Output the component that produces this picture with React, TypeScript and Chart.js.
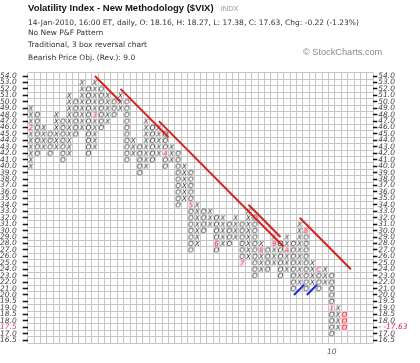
import React, { useEffect, useRef } from 'react';
import { Chart, registerables } from 'chart.js';

Chart.register(...registerables);

// ---- data ----
const boxLevels = [54, 53, 52, 51, 50, 49, 48, 47, 46, 45, 44, 43, 42, 41, 40, 39, 38, 37, 36, 35, 34, 33, 32, 31, 30, 29, 28, 27, 26, 25, 24, 23, 22, 21, 20, 19.5, 19, 18.5, 18, 17.5, 17, 16.5];

const columnTypes = ['X', 'O', 'X', 'O', 'X', 'O', 'X', 'O', 'X', 'O', 'X', 'O', 'X', 'O', 'X', 'O', 'X', 'O', 'X', 'O', 'X', 'O', 'X', 'O', 'X', 'O', 'X', 'O', 'X', 'O', 'X', 'O', 'X', 'O', 'X', 'O', 'X', 'O', 'X', 'O', 'X', 'O', 'X', 'O', 'X', 'O', 'X', 'O', 'X', 'O'];
const columnLows = [40, 42, 43, 42, 43, 41, 42, 45, 46, 42, 43, 46, 47, 48, 49, 41, 42, 39, 40, 41, 42, 40, 41, 34, 35, 27, 28, 30, 31, 27, 28, 28, 29, 25, 26, 23, 24, 24, 25, 23, 24, 21, 22, 21, 22, 21, 22, 17, 17.5, 17.5];
const columnHighs = [49, 48, 46, 45, 48, 47, 51, 50, 53, 52, 53, 52, 51, 50, 51, 50, 44, 43, 47, 46, 46, 45, 43, 42, 40, 39, 34, 33, 33, 32, 32, 31, 32, 31, 33, 32, 28, 27, 29, 28, 29, 28, 31, 30, 25, 24, 24, 23, 19, 18.5];

const monthColumns = [0, 10, 21, 25, 29, 33, 36, 38, 40, 43, 45, 47];
const monthLevels = [46, 48, 42, 34, 28, 25, 27, 28, 27, 30, 24, 19];
const monthLabels = ['2', '3', '4', '5', '6', '7', '8', '9', 'A', 'B', 'C', '1'];

const currentColumn = 49;
const lastPriceLevel = 17.5;
const lastPriceLabel = '- -17.63';
const yearColumn = 47;
const yearLabel = '10';

const bearStartCols = [10, 14, 20, 34, 42];
const bearStartLevels = [54, 52, 47, 34, 32];
const bearEndCols = [14, 21.5, 39.5, 39, 50];
const bearEndLevels = [50, 44.5, 27.5, 29, 24];

const bullStartCols = [41.1, 43.1];
const bullStartLevels = [20, 20];
const bullEndCols = [42.7, 44.7];
const bullEndLevels = [21.6, 21.6];

const totalColumns = 54;

// ---- helpers ----
const FONT = '"DejaVu Sans", Verdana, sans-serif';

function levelToRow(level: number): number {
  if (level >= 20) return 54 - level;
  return 34 + (20 - level) / 0.5;
}

function makeGlyph(text: string, color: string, bg?: string): HTMLCanvasElement {
  const c = document.createElement('canvas');
  c.width = 7;
  c.height = 7;
  const g = c.getContext('2d') as CanvasRenderingContext2D;
  if (bg) {
    g.fillStyle = bg;
    g.fillRect(0, 0, 7, 7);
  }
  g.fillStyle = color;
  g.font = `italic 7px ${FONT}`;
  g.textAlign = 'center';
  g.textBaseline = 'middle';
  g.fillText(text, 3.5, 4);
  return c;
}

const isHalf = (v: number) => Math.abs(v - Math.round(v)) > 0.25;

export default function App() {
  const ref = useRef<HTMLCanvasElement | null>(null);

  useEffect(() => {
    document.body.style.margin = '0';
    const canvas = ref.current;
    if (!canvas) return;

    const markerKey = new Set(monthColumns.map((c, i) => `${c}|${monthLevels[i]}`));
    const xPts: { x: number; y: number }[] = [];
    const oPts: { x: number; y: number }[] = [];
    const curPts: { x: number; y: number }[] = [];
    columnTypes.forEach((t, col) => {
      boxLevels.forEach((lv) => {
        if (lv < columnLows[col] || lv > columnHighs[col]) return;
        if (markerKey.has(`${col}|${lv}`)) return;
        const p = { x: col, y: levelToRow(lv) };
        if (col === currentColumn) curPts.push(p);
        else if (t === 'X') xPts.push(p);
        else oPts.push(p);
      });
    });

    const xGlyph = makeGlyph('X', '#1c1c1c');
    const oGlyph = makeGlyph('O', '#1c1c1c');
    const curGlyph = makeGlyph('O', '#e0202a', '#f9cdd5');
    const markerGlyphs = monthLabels.map((l) => makeGlyph(l, '#c8364f', 'rgba(240,170,185,0.28)'));

    const bearSets = bearStartCols.map((c, i) => ({
      data: [
        { x: c, y: levelToRow(bearStartLevels[i]) },
        { x: bearEndCols[i], y: levelToRow(bearEndLevels[i]) },
      ],
      showLine: true,
      borderColor: '#d8201c',
      borderWidth: 2,
      pointRadius: 0,
    }));
    const bullSets = bullStartCols.map((c, i) => ({
      data: [
        { x: c, y: levelToRow(bullStartLevels[i]) },
        { x: bullEndCols[i], y: levelToRow(bullEndLevels[i]) },
      ],
      showLine: true,
      borderColor: '#1a2ad8',
      borderWidth: 2,
      pointRadius: 0,
    }));

    const gridColor = '#c6c6c6';
    const tickFont = { family: FONT, size: 7.5, style: 'italic' as const };

    const chart = new Chart(canvas, {
      type: 'scatter',
      data: {
        datasets: [
          ...bearSets,
          ...bullSets,
          {
            data: monthColumns.map((c, i) => ({ x: c, y: levelToRow(monthLevels[i]) })),
            pointStyle: (ctx: any) => markerGlyphs[ctx.dataIndex],
            pointRadius: 3,
          },
          { data: curPts, pointStyle: curGlyph, pointRadius: 3 },
          { data: xPts, pointStyle: xGlyph, pointRadius: 3 },
          { data: oPts, pointStyle: oGlyph, pointRadius: 3 },
        ] as any,
      },
      options: {
        responsive: false,
        animation: false,
        events: [],
        layout: { padding: { top: 72.8, left: 0, right: 0, bottom: 0 } },
        plugins: { legend: { display: false }, tooltip: { enabled: false } },
        scales: {
          x: {
            type: 'linear',
            position: 'bottom',
            min: -0.5,
            max: totalColumns - 0.5,
            ticks: {
              stepSize: 0.5,
              autoSkip: false,
              maxRotation: 0,
              padding: 4,
              font: tickFont,
              color: '#555',
              callback: (v: any) => (Number(v) === yearColumn ? yearLabel : ''),
            },
            grid: {
              drawTicks: false,
              color: (ctx: any) => (ctx.tick && isHalf(ctx.tick.value) ? gridColor : 'rgba(0,0,0,0)'),
            },
            border: { display: false },
            afterFit: (s: any) => {
              s.height = 19.7;
            },
          },
          y: {
            type: 'linear',
            position: 'left',
            reverse: true,
            min: -0.5,
            max: boxLevels.length - 0.5,
            ticks: {
              stepSize: 0.5,
              autoSkip: false,
              padding: 2,
              crossAlign: 'far',
              font: tickFont,
              color: (ctx: any) => (ctx.tick && boxLevels[ctx.tick.value] === lastPriceLevel ? '#d8507a' : '#444'),
              callback: (v: any) => {
                const n = Number(v);
                return Number.isInteger(n) && boxLevels[n] !== undefined ? boxLevels[n].toFixed(1) : '';
              },
            },
            grid: {
              tickLength: 5,
              tickWidth: 1.5,
              color: (ctx: any) => (ctx.tick && isHalf(ctx.tick.value) ? gridColor : 'rgba(0,0,0,0)'),
              tickColor: (ctx: any) => (ctx.tick && !isHalf(ctx.tick.value) ? '#111' : 'rgba(0,0,0,0)'),
            },
            border: { display: false },
            afterFit: (s: any) => {
              s.width = 27.7;
            },
          },
          y2: {
            type: 'linear',
            position: 'right',
            reverse: true,
            min: -0.5,
            max: boxLevels.length - 0.5,
            ticks: {
              stepSize: 0.5,
              autoSkip: false,
              padding: 1,
              font: tickFont,
              color: (ctx: any) => (ctx.tick && boxLevels[ctx.tick.value] === lastPriceLevel ? '#d8204a' : '#444'),
              callback: (v: any) => {
                const n = Number(v);
                if (!Number.isInteger(n) || boxLevels[n] === undefined) return '';
                return boxLevels[n] === lastPriceLevel ? lastPriceLabel : boxLevels[n].toFixed(1);
              },
            },
            grid: {
              drawOnChartArea: false,
              tickLength: 4,
              tickWidth: 1.5,
              color: 'rgba(0,0,0,0)',
              tickColor: (ctx: any) => (ctx.tick && !isHalf(ctx.tick.value) ? '#111' : 'rgba(0,0,0,0)'),
            },
            border: { display: false },
            afterFit: (s: any) => {
              s.width = 46.7;
            },
          },
        },
      } as any,
    });
    return () => chart.destroy();
  }, []);

  const lineStyle: React.CSSProperties = {
    position: 'absolute',
    left: 28,
    fontFamily: FONT,
    fontSize: 7.5,
    color: '#333',
    lineHeight: '10px',
    whiteSpace: 'nowrap',
  };

  return (
    <div style={{ position: 'relative', width: 420, height: 363, background: '#fff', overflow: 'hidden' }}>
      <canvas ref={ref} width={420} height={363} style={{ position: 'absolute', left: 0, top: 0 }} />
      <div
        style={{
          position: 'absolute',
          left: 28,
          top: 2,
          fontFamily: '"Liberation Sans", Arial, sans-serif',
          fontSize: 9.5,
          fontWeight: 'bold',
          color: '#111',
          lineHeight: '12px',
          whiteSpace: 'nowrap',
        }}
      >
        Volatility Index - New Methodology ($VIX)
        <span style={{ fontWeight: 'normal', fontSize: 7.5, color: '#999', marginLeft: 7 }}>INDX</span>
      </div>
      <div style={{ ...lineStyle, top: 17.7 }}>
        14-Jan-2010, 16:00 ET, daily, O: 18.16, H: 18.27, L: 17.38, C: 17.63, Chg: -0.22 (-1.23%)
      </div>
      <div style={{ ...lineStyle, top: 27.7 }}>No New P&amp;F Pattern</div>
      <div style={{ ...lineStyle, top: 40 }}>Traditional, 3 box reversal chart</div>
      <div style={{ ...lineStyle, top: 53.3 }}>Bearish Price Obj. (Rev.): 9.0</div>
      <div
        style={{
          position: 'absolute',
          left: 303,
          top: 46.3,
          fontFamily: '"Liberation Sans", Arial, sans-serif',
          fontSize: 9.2,
          color: '#888',
          lineHeight: '12px',
          whiteSpace: 'nowrap',
        }}
      >
        © StockCharts.com
      </div>
    </div>
  );
}
